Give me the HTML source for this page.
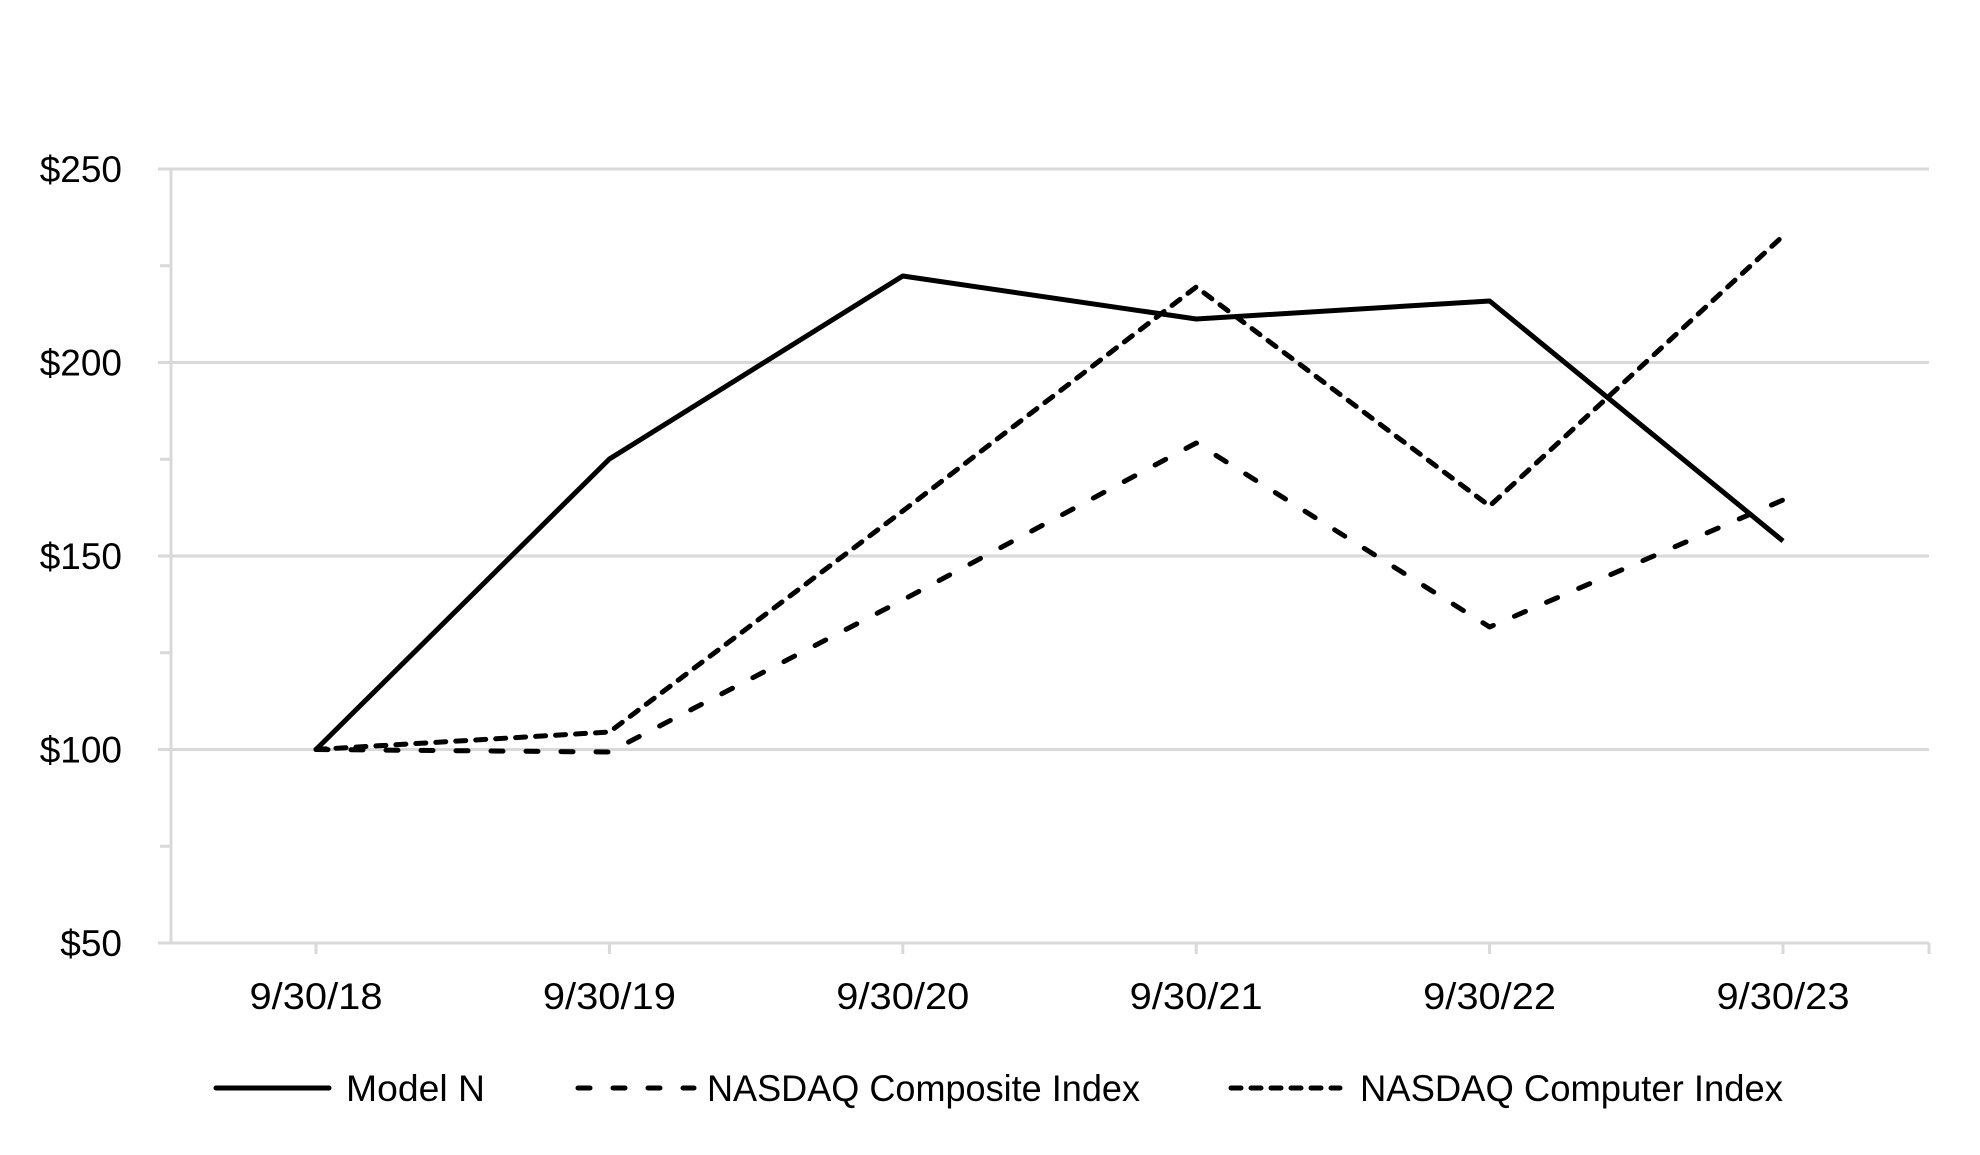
<!DOCTYPE html>
<html>
<head>
<meta charset="utf-8">
<style>
  html, body { margin: 0; padding: 0; background: #ffffff; }
  svg { display: block; }
  text { font-family: "Liberation Sans", sans-serif; fill: #000; }
</style>
</head>
<body>
<svg width="1980" height="1155" viewBox="0 0 1980 1155" xmlns="http://www.w3.org/2000/svg">
  <rect x="0" y="0" width="1980" height="1155" fill="#ffffff"/>

  <!-- gridlines -->
  <g stroke="#d9d9d9" stroke-width="3" fill="none">
    <line x1="158" y1="169" x2="1929" y2="169"/>
    <line x1="158" y1="362.5" x2="1929" y2="362.5"/>
    <line x1="158" y1="556" x2="1929" y2="556"/>
    <line x1="158" y1="749.5" x2="1929" y2="749.5"/>
    <line x1="158" y1="943" x2="1929" y2="943"/>
    <!-- y axis -->
    <line x1="171" y1="169" x2="171" y2="943"/>
    <!-- minor ticks -->
    <line x1="160" y1="265.75" x2="171" y2="265.75"/>
    <line x1="160" y1="459.25" x2="171" y2="459.25"/>
    <line x1="160" y1="652.75" x2="171" y2="652.75"/>
    <line x1="160" y1="846.25" x2="171" y2="846.25"/>
    <!-- x ticks -->
    <line x1="316" y1="943" x2="316" y2="954"/>
    <line x1="609.4" y1="943" x2="609.4" y2="954"/>
    <line x1="902.8" y1="943" x2="902.8" y2="954"/>
    <line x1="1196.2" y1="943" x2="1196.2" y2="954"/>
    <line x1="1489.6" y1="943" x2="1489.6" y2="954"/>
    <line x1="1783" y1="943" x2="1783" y2="954"/>
    <line x1="1929" y1="943" x2="1929" y2="954"/>
  </g>

  <!-- y labels -->
  <g font-size="37" text-anchor="end">
    <text x="122" y="182">$250</text>
    <text x="122" y="375.5">$200</text>
    <text x="122" y="569">$150</text>
    <text x="122" y="762.5">$100</text>
    <text x="122" y="956">$50</text>
  </g>

  <!-- x labels -->
  <g font-size="37" text-anchor="middle">
    <text x="316" y="1009" textLength="133" lengthAdjust="spacingAndGlyphs">9/30/18</text>
    <text x="609.4" y="1009" textLength="133" lengthAdjust="spacingAndGlyphs">9/30/19</text>
    <text x="902.8" y="1009" textLength="133" lengthAdjust="spacingAndGlyphs">9/30/20</text>
    <text x="1196.2" y="1009" textLength="133" lengthAdjust="spacingAndGlyphs">9/30/21</text>
    <text x="1489.6" y="1009" textLength="133" lengthAdjust="spacingAndGlyphs">9/30/22</text>
    <text x="1783" y="1009" textLength="133" lengthAdjust="spacingAndGlyphs">9/30/23</text>
  </g>

  <!-- series -->
  <g fill="none" stroke="#000" stroke-width="5">
    <!-- NASDAQ Composite (long dash) -->
    <polyline stroke-linecap="round" stroke-linejoin="round" stroke-dasharray="12 23"
      points="316,749.5 609.4,752 902.8,600 1196.2,443 1489.6,627 1783,500"/>
    <!-- NASDAQ Computer (short dash) -->
    <polyline stroke-linecap="round" stroke-linejoin="round" stroke-dasharray="10 10"
      points="316,749.5 609.4,732 902.8,511 1196.2,287 1489.6,506 1783,236"/>
    <!-- Model N (solid) -->
    <polyline stroke-linejoin="round"
      points="316,749.5 609.4,459 902.8,276 1196.2,319 1489.6,301 1783,541"/>
  </g>

  <!-- legend -->
  <g fill="none" stroke="#000" stroke-width="5">
    <line x1="216" y1="1088" x2="329" y2="1088" stroke-linecap="round"/>
    <line x1="578" y1="1088" x2="694" y2="1088" stroke-linecap="round" stroke-dasharray="12 23"/>
    <line x1="1231" y1="1088" x2="1340" y2="1088" stroke-linecap="round" stroke-dasharray="10 10"/>
  </g>
  <g font-size="37">
    <text x="346" y="1101" textLength="139" lengthAdjust="spacingAndGlyphs">Model N</text>
    <text x="707" y="1101" textLength="433" lengthAdjust="spacingAndGlyphs">NASDAQ Composite Index</text>
    <text x="1360" y="1101" textLength="423" lengthAdjust="spacingAndGlyphs">NASDAQ Computer Index</text>
  </g>
</svg>
</body>
</html>
